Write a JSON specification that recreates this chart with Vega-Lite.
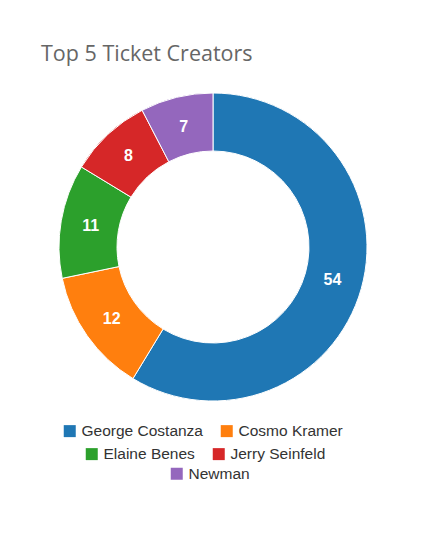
{
  "$schema": "https://vega.github.io/schema/vega-lite/v6.json",
  "width": 426,
  "height": 332,
  "padding": {"left": 0, "top": 43, "right": 0, "bottom": 0},
  "background": "white",
  "title": {"text": "Top 5 Ticket Creators", "anchor": "start", "dx": 41, "fontSize": 21.5, "font": "Open Sans", "fontWeight": "normal", "color": "#666666", "offset": 16},
  "data": {"values": [
    {"name": "George Costanza", "tickets": 54},
    {"name": "Cosmo Kramer", "tickets": 12},
    {"name": "Elaine Benes", "tickets": 11},
    {"name": "Jerry Seinfeld", "tickets": 8},
    {"name": "Newman", "tickets": 7}
  ]},
  "encoding": {
    "theta": {"field": "tickets", "type": "quantitative", "stack": true},
    "order": {"field": "tickets", "type": "quantitative", "sort": "descending"}
  },
  "layer": [
    {
      "mark": {"type": "arc", "innerRadius": 96, "outerRadius": 154, "stroke": "white", "strokeWidth": 1},
      "encoding": {
        "color": {"field": "name", "type": "nominal", "sort": null,
          "scale": {"domain": ["George Costanza", "Cosmo Kramer", "Elaine Benes", "Jerry Seinfeld", "Newman"], "range": ["#1f77b4", "#ff7f0e", "#2ca02c", "#d62728", "#9467bd"]},
          "legend": {"orient": "none", "legendX": 62, "legendY": 342, "direction": "horizontal", "values": ["George Costanza", "Cosmo Kramer"]}
        }
      }
    },
    {
      "mark": {"type": "arc", "innerRadius": 96, "outerRadius": 154, "stroke": "white", "strokeWidth": 1},
      "encoding": {
        "color": {"field": "name", "type": "nominal", "sort": null,
          "legend": {"orient": "none", "legendX": 84, "legendY": 365, "direction": "horizontal", "values": ["Elaine Benes", "Jerry Seinfeld"]}
        }
      }
    },
    {
      "mark": {"type": "arc", "innerRadius": 96, "outerRadius": 154, "stroke": "white", "strokeWidth": 1},
      "encoding": {
        "color": {"field": "name", "type": "nominal", "sort": null,
          "legend": {"orient": "none", "legendX": 169, "legendY": 385, "direction": "horizontal", "values": ["Newman"]}
        }
      }
    },
    {
      "mark": {"type": "text", "radius": 124, "fill": "white", "fontSize": 16, "fontWeight": "bold", "font": "Liberation Sans"},
      "encoding": {"text": {"field": "tickets", "type": "quantitative"}}
    }
  ],
  "resolve": {"legend": {"color": "independent"}},
  "config": {
    "view": {"stroke": null},
    "legend": {"title": null, "symbolType": "square", "symbolSize": 144, "symbolStrokeWidth": 0, "labelFontSize": 15.5, "labelFont": "Liberation Sans", "labelColor": "#333333", "labelOffset": 4, "columnPadding": 16, "padding": 0, "labelLimit": 300}
  }
}
